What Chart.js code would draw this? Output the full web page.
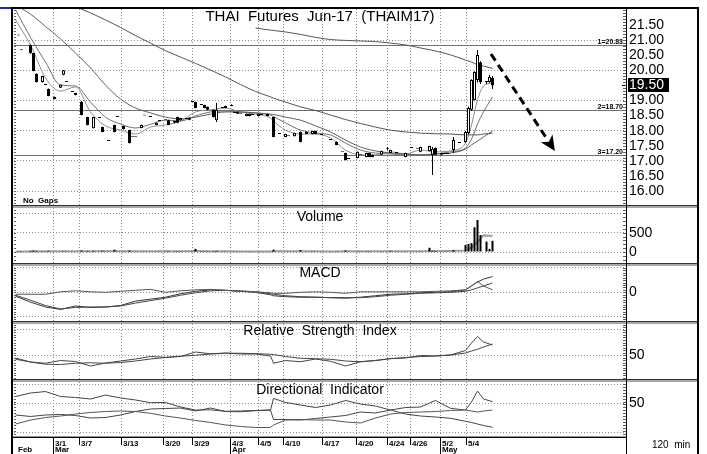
<!DOCTYPE html>
<html lang="en">
<head>
<meta charset="UTF-8">
<title>THAI Futures Jun-17 (THAIM17)</title>
<style>
  html, body { margin: 0; padding: 0; background: #fff; }
  #chart { position: relative; width: 707px; height: 454px; overflow: hidden; }
  #chart canvas { position: absolute; left: 14px; }
  #chart .ln { position: absolute; }
</style>
<script src="https://cdn.jsdelivr.net/npm/chart.js@4.4.1/dist/chart.umd.min.js"></script>
</head>
<body>
<div id="chart">
  <canvas id="price" width="683" height="196" style="top:9px"></canvas>
  <canvas id="volume" width="683" height="55" style="top:208px"></canvas>
  <canvas id="macd" width="683" height="55" style="top:266px"></canvas>
  <canvas id="rsi" width="683" height="55" style="top:324px"></canvas>
  <canvas id="di" width="683" height="72" style="top:382px"></canvas>

  <!-- frame, panel separators, axis line -->
  <div class="ln" style="left:0;top:7px;width:12px;height:2px;background:#1f2e9e"></div>
  <div class="ln" style="left:11px;top:7px;width:684px;height:460px;border:2px solid #000;border-bottom:0"></div>
  <div class="ln" style="left:13px;top:205px;width:684px;height:1px;background:#333"></div>
  <div class="ln" style="left:13px;top:206px;width:684px;height:2px;background:#a8a8a8"></div>
  <div class="ln" style="left:13px;top:263px;width:684px;height:1px;background:#333"></div>
  <div class="ln" style="left:13px;top:264px;width:684px;height:2px;background:#a8a8a8"></div>
  <div class="ln" style="left:13px;top:321px;width:684px;height:1px;background:#333"></div>
  <div class="ln" style="left:13px;top:322px;width:684px;height:2px;background:#a8a8a8"></div>
  <div class="ln" style="left:13px;top:379px;width:684px;height:1px;background:#333"></div>
  <div class="ln" style="left:13px;top:380px;width:684px;height:2px;background:#a8a8a8"></div>
  <div class="ln" style="left:13px;top:436px;width:614px;height:1px;background:#999"></div>
  <div class="ln" style="left:13px;top:437px;width:614px;height:1px;background:#000"></div>
  <div class="ln" style="left:626px;top:9px;width:1px;height:445px;background:#000"></div>
</div>

<script>
// ------------------------------------------------------------------ data

// 120 min bars; barNo is the bar position on the time axis (204 slots)
const SLOTS = 204

const barNo = [
  1, 2, 5, 6, 7, 9, 10, 11, 13, 15,
  16, 17, 19, 20, 22, 24, 26, 28, 29, 31,
  33, 34, 36, 38, 39, 40, 42, 43, 45, 47,
  48, 50, 51, 53, 54, 55, 57, 58, 59, 60,
  62, 63, 64, 66, 67, 69, 70, 72, 73, 74,
  75, 77, 78, 79, 81, 82, 84, 86, 88, 90,
  91, 93, 95, 97, 99, 100, 102, 105, 107, 109,
  110, 111, 114, 115, 117, 118, 119, 122, 124, 125,
  127, 130, 132, 134, 135, 138, 139, 140, 142, 143,
  144, 146, 148, 150, 151, 152, 153, 154, 155, 157,
  158, 159
]
const open = [
  21.15, 20.66, 20.84, 20.57, 19.88, 19.61, 19.51, 19.38, 19.05, 19.42,
  19.85, 19.61, 19.28, 19.18, 18.95, 18.45, 18.08, 18.42, 18.12, 17.66,
  18.19, 18.45, 18.16, 18.02, 17.80, 17.78, 18.09, 18.50, 18.45, 18.19,
  18.32, 18.35, 18.35, 18.26, 18.45, 18.35, 18.39, 18.36, 18.95, 18.95,
  18.85, 18.85, 18.79, 18.69, 18.35, 18.75, 18.75, 18.82, 18.59, 18.56,
  18.56, 18.49, 18.49, 18.52, 18.49, 18.52, 18.49, 18.45, 17.89, 17.79,
  17.82, 17.82, 17.96, 17.89, 17.89, 17.99, 17.86, 17.69, 17.63, 17.30,
  17.26, 17.06, 17.10, 17.20, 17.13, 17.26, 17.20, 17.20, 17.40, 17.26,
  17.26, 17.13, 17.43, 17.40, 17.30, 17.33, 17.20, 17.43, 17.26, 17.23,
  17.23, 17.36, 17.59, 17.63, 17.92, 18.69, 19.02, 19.68, 20.27, 19.61,
  19.61, 19.75
]
const high = [
  21.15, 20.66, 20.86, 20.58, 19.90, 19.82, 19.51, 19.40, 19.13, 19.53,
  20.01, 19.61, 19.28, 19.26, 18.98, 18.46, 18.46, 18.42, 18.13, 17.66,
  18.20, 18.45, 18.17, 18.03, 17.80, 17.78, 18.20, 18.50, 18.45, 18.27,
  18.32, 18.35, 18.36, 18.33, 18.46, 18.43, 18.39, 18.44, 18.95, 18.96,
  18.85, 18.86, 18.80, 18.70, 18.92, 18.75, 18.83, 18.88, 18.59, 18.63,
  18.56, 18.57, 18.57, 18.52, 18.57, 18.52, 18.56, 18.46, 17.89, 17.90,
  17.82, 17.93, 17.97, 17.97, 18.00, 18.00, 17.86, 17.69, 17.64, 17.30,
  17.27, 17.06, 17.31, 17.20, 17.27, 17.27, 17.21, 17.34, 17.46, 17.37,
  17.26, 17.27, 17.43, 17.40, 17.47, 17.50, 17.46, 17.44, 17.27, 17.23,
  17.23, 17.79, 17.59, 17.99, 18.80, 19.70, 19.97, 20.67, 20.30, 19.65,
  19.85, 19.81
]
const low = [
  21.15, 20.66, 20.55, 19.97, 19.60, 19.60, 19.51, 19.14, 19.04, 19.41,
  19.84, 19.61, 19.28, 19.17, 18.51, 18.18, 18.07, 18.42, 17.95, 17.66,
  17.95, 18.45, 18.04, 17.58, 17.80, 17.78, 18.08, 18.50, 18.45, 18.18,
  18.32, 18.35, 18.18, 18.25, 18.25, 18.34, 18.39, 18.35, 18.95, 18.74,
  18.85, 18.74, 18.68, 18.44, 18.29, 18.75, 18.74, 18.81, 18.59, 18.55,
  18.56, 18.48, 18.48, 18.52, 18.48, 18.52, 18.48, 17.78, 17.89, 17.78,
  17.82, 17.81, 17.62, 17.88, 17.88, 17.88, 17.86, 17.69, 17.52, 17.30,
  17.02, 17.06, 17.09, 17.20, 17.12, 17.12, 17.12, 17.19, 17.36, 17.25,
  17.26, 17.12, 17.43, 17.40, 17.29, 17.32, 16.53, 17.19, 17.19, 17.23,
  17.23, 17.26, 17.59, 17.60, 17.88, 18.65, 19.00, 19.60, 19.55, 19.55,
  19.58, 19.38
]
const close = [
  21.15, 20.66, 20.57, 19.98, 19.61, 19.81, 19.51, 19.15, 19.12, 19.52,
  20.00, 19.61, 19.28, 19.25, 18.52, 18.19, 18.45, 18.42, 17.96, 17.66,
  17.96, 18.45, 18.05, 17.59, 17.80, 17.78, 18.19, 18.50, 18.45, 18.26,
  18.32, 18.35, 18.19, 18.32, 18.26, 18.42, 18.39, 18.43, 18.95, 18.75,
  18.85, 18.75, 18.69, 18.45, 18.69, 18.75, 18.82, 18.82, 18.59, 18.62,
  18.56, 18.56, 18.56, 18.52, 18.56, 18.52, 18.55, 17.79, 17.89, 17.89,
  17.82, 17.92, 17.63, 17.96, 17.99, 17.89, 17.86, 17.69, 17.53, 17.30,
  17.03, 17.06, 17.30, 17.20, 17.26, 17.13, 17.13, 17.33, 17.40, 17.36,
  17.26, 17.26, 17.43, 17.40, 17.46, 17.49, 17.40, 17.20, 17.20, 17.23,
  17.23, 17.69, 17.59, 17.96, 18.75, 19.68, 19.94, 20.51, 19.61, 19.61,
  19.78, 19.50
]
const volume = [
  20, 20, 30, 40, 30, 20, 15, 30, 15, 15,
  20, 10, 10, 15, 40, 30, 30, 10, 30, 10,
  60, 15, 20, 40, 10, 10, 15, 10, 10, 15,
  10, 20, 25, 20, 25, 20, 15, 15, 20, 80,
  20, 20, 20, 25, 30, 10, 10, 10, 10, 10,
  10, 15, 10, 10, 15, 10, 15, 60, 10, 15,
  10, 15, 50, 15, 20, 15, 10, 10, 20, 10,
  40, 10, 20, 10, 20, 20, 15, 20, 15, 30,
  10, 15, 10, 15, 20, 110, 30, 25, 15, 10,
  10, 50, 15, 180, 210, 230, 640, 830, 440, 270,
  80, 290
]

// indicator lines, read at these bar positions
const sampleAt = [0, 5, 10, 15, 20, 25, 30, 35, 40, 45, 50, 55, 60, 65, 70, 75, 80, 85, 86,
  90, 95, 100, 105, 110, 115, 120, 125, 130, 135, 140, 145, 150, 152, 154, 156, 159]

const ma0 = [null, null, null, null, null, null, null, null, null, null, null, null, null, null, null, null,
  21.40, 21.33, 21.32, 21.27, 21.19, 21.09, 21.02, 20.99, 20.97, 20.95, 20.90, 20.84, 20.74, 20.64,
  20.51, 20.34, 20.27, 20.19, 20.14, 20.06]
const ma1 = [null, null, null, 22.33, 22.11, 21.90, 21.67, 21.42, 21.15, 20.90, 20.65, 20.44, 20.23,
  20.01, 19.78, 19.53, 19.30, 19.12, 19.08, 18.95, 18.79, 18.67, 18.52, 18.37, 18.24, 18.12, 18.02,
  17.96, 17.92, 17.90, 17.89, 17.86, 17.86, 17.86, 17.89, 17.92]
const ma2 = [22.16, 21.86, 21.45, 21.04, 20.57, 20.08, 19.51, 19.05, 18.75, 18.59, 18.45, 18.39, 18.45,
  18.55, 18.62, 18.62, 18.59, 18.55, 18.54, 18.45, 18.35, 18.16, 17.96, 17.69, 17.46, 17.33, 17.26,
  17.23, 17.20, 17.23, 17.26, 17.39, 17.53, 17.66, 17.79, 17.99]
const ma3 = [22.00, 21.09, 20.27, 19.51, 19.48, 18.95, 18.45, 18.22, 18.09, 18.21, 18.35, 18.32, 18.49,
  18.62, 18.65, 18.62, 18.59, 18.52, 18.47, 18.26, 18.02, 17.92, 17.86, 17.59, 17.36, 17.26, 17.23,
  17.20, 17.20, 17.23, 17.30, 17.43, 17.72, 18.22, 18.62, 19.12]
const ma4 = [21.67, 20.84, 19.75, 19.31, 19.45, 18.62, 18.16, 18.02, 17.89, 18.12, 18.19, 18.32, 18.62,
  18.69, 18.75, 18.62, 18.55, 18.42, 18.32, 18.02, 17.89, 17.89, 17.76, 17.36, 17.20, 17.20, 17.30,
  17.23, 17.36, 17.30, 17.33, 17.59, 18.19, 19.02, 19.48, 19.58]

const volumeAvg = [12, 15, 18, 20, 18, 22, 25, 22, 20, 18, 18, 20, 25, 22, 18, 15, 14, 16, 18, 20,
  18, 17, 16, 18, 20, 18, 17, 18, 20, 25, 28, 40, 110, 260, 430, 415]

const macdLine = [-0.08, -0.20, -0.30, -0.35, -0.28, -0.31, -0.30, -0.27, -0.18, -0.14, -0.10, -0.03,
  0.02, 0.05, 0.04, 0.02, 0.00, -0.05, -0.07, -0.09, -0.10, -0.10, -0.11, -0.12, -0.10, -0.07, -0.04,
  -0.03, -0.01, 0.00, 0.01, 0.05, 0.13, 0.21, 0.27, 0.32]
const macdSignal = [-0.06, -0.16, -0.27, -0.34, -0.31, -0.30, -0.30, -0.28, -0.22, -0.17, -0.12, -0.06,
  -0.01, 0.03, 0.04, 0.03, 0.01, -0.03, -0.04, -0.07, -0.09, -0.10, -0.11, -0.11, -0.11, -0.09, -0.06,
  -0.04, -0.02, -0.01, 0.00, 0.02, 0.05, 0.09, 0.13, 0.19]
const macdDiff = [-0.04, -0.04, -0.04, 0.01, 0.03, 0.01, 0.00, 0.02, 0.04, 0.06, 0.00, 0.03, 0.05,
  0.06, 0.04, 0.02, 0.01, -0.01, -0.02, -0.02, 0.00, 0.01, 0.00, -0.02, 0.01, 0.01, 0.01, 0.01, 0.01,
  0.02, 0.03, 0.05, 0.13, 0.22, 0.13, 0.05]

const rsi = [47.6, 44.4, 43.4, 45.6, 44.8, 41.2, 43.6, 45.2, 46.8, 48.8, 48.2, 48.8, 52.4, 51.0, 51.6,
  50.8, 50.8, 49.2, 43.4, 45.6, 44.6, 46.8, 45.0, 41.2, 44.6, 45.6, 47.2, 47.6, 49.6, 49.2, 50.0,
  53.6, 59.6, 64.8, 60.4, 58.0]
const rsiAvg = [46.6, 44.4, 42.6, 42.4, 43.4, 43.8, 43.4, 44.0, 45.2, 46.8, 48.0, 49.0, 49.8, 50.8,
  51.4, 51.4, 51.1, 50.6, 50.4, 48.8, 47.4, 47.0, 46.6, 45.2, 44.6, 45.6, 47.0, 48.0, 48.7, 49.2,
  50.0, 51.6, 53.2, 54.6, 56.4, 58.8]

const diMinus = [58.8, 63.5, 65.5, 58.8, 57.4, 55.4, 60.8, 56.8, 54.1, 50.4, 50.7, 44.6, 40.5, 40.8,
  38.8, 39.2, 39.9, 40.5, 56.3, 50.7, 47.3, 43.9, 47.3, 53.4, 48.6, 45.9, 40.5, 35.1, 32.4, 31.1,
  29.3, 25.3, 23.7, 21.6, 19.6, 17.2]
const diPlus = [33.8, 31.8, 33.8, 34.5, 33.1, 29.7, 30.4, 33.8, 38.5, 41.9, 42.6, 43.2, 39.2, 43.2,
  38.5, 38.2, 39.6, 40.5, 27.7, 27.7, 27.0, 29.1, 31.1, 33.1, 37.8, 36.5, 40.5, 43.9, 44.6, 53.4,
  42.8, 40.5, 51.4, 66.2, 55.4, 51.8]
const adx = [21.6, 27.0, 30.4, 32.4, 35.1, 37.2, 38.5, 39.2, 38.5, 36.1, 32.4, 29.7, 26.4, 23.7, 20.3,
  18.3, 16.9, 16.9, 20.3, 27.0, 27.7, 27.0, 27.0, 24.3, 23.0, 29.7, 35.1, 37.2, 37.8, 38.5, 39.9,
  40.5, 39.2, 37.8, 39.2, 40.5]

// retracement levels and the drawn arrow (bar position, price)
const levels = [20.83, 18.70, 17.20]
const arrowFrom = [158.5, 20.54]
const arrowTo = [179.8, 17.33]

// date axis
const dateMark = [12.6, 21.4, 35.4, 49.3, 59.1, 71.8, 80.9, 89.4, 102.3, 113.7, 123.9, 131.5, 141.5, 150.2]
const dateText = ['3/1', '3/7', '3/13', '3/20', '3/29', '4/3', '4/5', '4/10', '4/17', '4/20', '4/24', '4/26', '5/2', '5/4']
const monthText = ['Mar', '', '', '', '', 'Apr', '', '', '', '', '', '', 'May', '']

const priceTicks = [16, 16.5, 17, 17.5, 18, 18.5, 19, 19.5, 20, 20.5, 21, 21.5]

// ---------------------------------------------------------------- helpers

const FONT = '"Liberation Sans", Arial, sans-serif'
const GRID = '#8c8c8c'
const AXIS_W = 71

Chart.defaults.font.family = FONT
Chart.defaults.color = '#000'

const pts = vals => sampleAt.map((s, i) => ({ x: s, y: vals[i] })).filter(p => p.y !== null)

const line = (vals, color, width, smooth) => ({
  type: 'line',
  data: pts(vals),
  borderColor: color,
  borderWidth: width || 1,
  pointRadius: 0,
  fill: false,
  tension: 0,
  cubicInterpolationMode: smooth ? 'monotone' : 'default',
  order: 3
})

const xScale = () => ({
  type: 'linear',
  min: -0.5,
  max: SLOTS - 0.5,
  offset: false,
  afterBuildTicks: s => { s.ticks = dateMark.map(v => ({ value: v })) },
  afterFit: s => { s.height = 0; s.paddingLeft = 0; s.paddingRight = 0 },
  ticks: { display: false },
  grid: { color: GRID, drawTicks: false, offset: false },
  border: { display: false, dash: [1, 2] }
})

const yScale = (min, max, tickVals, label, gridColor) => ({
  type: 'linear',
  position: 'right',
  min: min,
  max: max,
  beginAtZero: false,
  afterBuildTicks: s => { s.ticks = tickVals.map(v => ({ value: v })) },
  afterFit: s => { s.width = AXIS_W; s.paddingTop = 0; s.paddingBottom = 0 },
  ticks: { autoSkip: false, padding: 3, color: '#000', font: { size: 14 }, callback: label },
  grid: { color: gridColor || GRID, drawTicks: false },
  border: { display: false, dash: [1, 2] }
})

// title + small ticks along both edges of every panel
const panelPlugin = {
  id: 'panel',
  afterDraw (chart, args, o) {
    const { ctx, chartArea: a } = chart
    const y = chart.scales.y
    ctx.save()
    ctx.fillStyle = '#606060'
    const n0 = Math.ceil(y.min / o.minor)
    const n1 = Math.floor(y.max / o.minor)
    for (let n = n0; n <= n1; n++) {
      const py = Math.round(y.getPixelForValue(n * o.minor))
      ctx.fillRect(a.left, py, 2, 1)
      ctx.fillRect(a.right - 3, py, 3, 1)
    }
    ctx.fillStyle = '#000'
    ctx.font = (o.titleSize || 14) + 'px ' + FONT
    ctx.textAlign = 'center'
    ctx.textBaseline = 'middle'
    ctx.fillText(o.title, (a.left + a.right) / 2, a.top + o.titleY)
    ctx.restore()
  }
}

const priceMarks = {
  id: 'priceMarks',
  beforeDatasetsDraw (chart) {
    const { ctx, chartArea: a, scales: { y } } = chart
    ctx.save()
    ctx.fillStyle = '#707070'
    levels.forEach(v => {
      ctx.fillRect(a.left, Math.round(y.getPixelForValue(v)), a.right - a.left, 1)
    })
    ctx.restore()
  },
  afterDraw (chart) {
    const { ctx, chartArea: a, scales: { x, y } } = chart
    ctx.save()
    // level labels
    ctx.fillStyle = '#000'
    ctx.font = 'bold 7px ' + FONT
    ctx.textAlign = 'right'
    ctx.textBaseline = 'alphabetic'
    levels.forEach((v, i) => {
      ctx.fillText((i + 1) + '=' + v.toFixed(2), a.right - 3, Math.round(y.getPixelForValue(v)) - 1)
    })
    // dashed arrow
    const x0 = x.getPixelForValue(arrowFrom[0]); const y0 = y.getPixelForValue(arrowFrom[1])
    const x1 = x.getPixelForValue(arrowTo[0]); const y1 = y.getPixelForValue(arrowTo[1])
    const ang = Math.atan2(y1 - y0, x1 - x0)
    const cs = Math.cos(ang); const sn = Math.sin(ang)
    const hx = x1 - 15 * cs; const hy = y1 - 15 * sn
    ctx.strokeStyle = '#000'
    ctx.lineWidth = 3
    ctx.setLineDash([8, 5])
    ctx.beginPath()
    ctx.moveTo(x0, y0)
    ctx.lineTo(hx + 3 * cs, hy + 3 * sn)
    ctx.stroke()
    ctx.setLineDash([])
    ctx.beginPath()
    ctx.moveTo(x1, y1)
    ctx.lineTo(hx + 7 * sn, hy - 7 * cs)
    ctx.lineTo(x1 - 11 * cs, y1 - 11 * sn)
    ctx.lineTo(hx - 7 * sn, hy + 7 * cs)
    ctx.closePath()
    ctx.fill()
    // last price box on the axis
    const last = close[close.length - 1]
    const py = Math.round(y.getPixelForValue(last))
    ctx.fillRect(a.right + 2, py - 7, 41, 14)
    ctx.fillRect(a.right - 4, py, 3, 1)
    ctx.fillStyle = '#fff'
    ctx.font = '14px ' + FONT
    ctx.textAlign = 'left'
    ctx.textBaseline = 'middle'
    ctx.fillText(last.toFixed(2), a.right + 3, py)
    // footnote
    ctx.fillStyle = '#000'
    ctx.font = 'bold 8px ' + FONT
    ctx.textBaseline = 'alphabetic'
    ctx.fillText('No  Gaps', a.left + 9, a.bottom - 2)
    ctx.restore()
  }
}

const dateAxis = {
  id: 'dateAxis',
  afterDraw (chart) {
    const { ctx, chartArea: a, scales: { x } } = chart
    ctx.save()
    ctx.fillStyle = '#000'
    ctx.font = 'bold 8px ' + FONT
    ctx.textAlign = 'left'
    ctx.textBaseline = 'alphabetic'
    dateMark.forEach((v, i) => {
      const px = Math.round(x.getPixelForValue(v) - 0.5)
      ctx.fillRect(px, a.bottom, 1, monthText[i] ? 17 : 8)
      ctx.fillText(dateText[i], px + 2, a.bottom + 8.5)
      if (monthText[i]) ctx.fillText(monthText[i], px + 2, a.bottom + 15)
    })
    ctx.fillText('Feb', a.left + 4, a.bottom + 15)
    ctx.font = '10px ' + FONT
    ctx.fillText('120  min', a.right + 26, a.bottom + 11)
    ctx.restore()
  }
}

const makePanel = (id, datasets, y, panelOpts, extraPlugins, padBottom) => new Chart(document.getElementById(id), {
  type: 'bar',
  data: { datasets: datasets },
  options: {
    responsive: false,
    maintainAspectRatio: false,
    animation: false,
    events: [],
    layout: { padding: { top: 0, left: 0, right: 0, bottom: padBottom || 0 }, autoPadding: false },
    scales: { x: xScale(), y: y },
    plugins: { legend: { display: false }, tooltip: { enabled: false }, panel: panelOpts }
  },
  plugins: [panelPlugin].concat(extraPlugins || [])
})

// ---------------------------------------------------------------- charts

makePanel('price', [
  {
    type: 'bar',
    data: barNo.map((b, i) => ({ x: b, y: [low[i], high[i]] })),
    backgroundColor: '#000',
    barThickness: 1,
    inflateAmount: 0,
    grouped: false,
    order: 1
  },
  {
    type: 'bar',
    data: barNo.map((b, i) => ({ x: b, y: [open[i], close[i]] })),
    backgroundColor: c => close[c.dataIndex] > open[c.dataIndex] ? '#fff' : '#000',
    borderColor: '#000',
    borderWidth: 1,
    borderSkipped: false,
    barThickness: 3,
    minBarLength: 1,
    inflateAmount: 0,
    grouped: false,
    order: 0
  },
  line(ma0, '#555555', 1, true),
  line(ma1, '#555555', 1, true),
  line(ma2, '#606060', 1, true),
  line(ma3, '#707070', 1, true),
  line(ma4, '#909090', 1, true)
], yScale(15.54, 22.03, priceTicks, v => v.toFixed(2),
  c => Number.isInteger(c.tick.value) ? GRID : 'rgba(0,0,0,0)'),
{ title: 'THAI  Futures  Jun-17  (THAIM17)', titleY: 8, titleSize: 15, minor: 0.1 }, [priceMarks])

makePanel('volume', [
  {
    type: 'bar',
    data: barNo.map((b, i) => ({ x: b, y: volume[i] })),
    backgroundColor: '#000',
    barThickness: 2,
    inflateAmount: 0,
    grouped: false,
    order: 0
  },
  line(volumeAvg, '#a0a0a0', 2, false)
], yScale(-285, 1140, [0, 500, 1000], v => (v === 1000 ? '' : String(v))),
{ title: 'Volume', titleY: 9.5, minor: 100 })

makePanel('macd', [
  line(macdDiff, '#555555', 1, false),
  line(macdSignal, '#444444', 1, false),
  line(macdLine, '#333333', 1, false)
], yScale(-0.586, 0.537, [-0.5, 0, 0.5], v => (v === 0 ? '0' : '')),
{ title: 'MACD', titleY: 7.5, minor: 0.05 })

makePanel('rsi', [
  line(rsiAvg, '#444444', 1, false),
  line(rsi, '#444444', 1, false)
], yScale(30.8, 74.8, [50, 70], v => (v === 50 ? '50' : '')),
{ title: 'Relative  Strength  Index', titleY: 7, minor: 2 })

makePanel('di', [
  line(adx, '#555555', 1, false),
  line(diPlus, '#444444', 1, false),
  line(diMinus, '#444444', 1, false)
], yScale(4.05, 78.4, [10, 50, 75], v => (v === 50 ? '50' : '')),
{ title: 'Directional  Indicator', titleY: 8, minor: 4 }, [dateAxis], 17)
</script>
</body>
</html>
